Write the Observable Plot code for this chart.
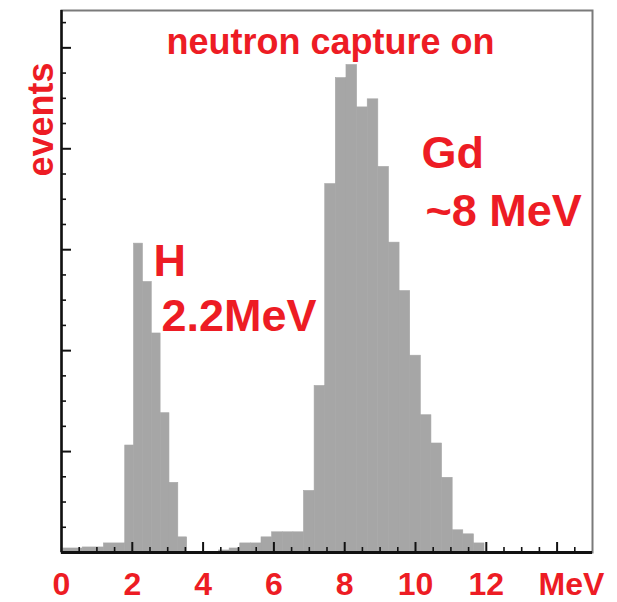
<!DOCTYPE html>
<html>
<head>
<meta charset="utf-8">
<script src="https://cdn.jsdelivr.net/npm/d3@7"></script>
<script src="https://cdn.jsdelivr.net/npm/@observablehq/plot@0.6"></script>
<style>
  html, body { margin: 0; padding: 0; background: #fff; }
  svg { display: block; }
</style>
</head>
<body>
<div id="chart"></div>
<script>
// ---- data (energy in MeV, counts in events) ----
const binStart = [0.0, 0.6, 1.2,
  1.8, 2.05, 2.3, 2.55, 2.8, 3.05, 3.3,
  4.45, 4.75, 5.05, 5.35, 5.65, 5.95, 6.25, 6.55,
  6.85, 7.15, 7.45, 7.75, 8.05, 8.35, 8.65, 8.95, 9.25, 9.55, 9.85, 10.15, 10.45, 10.75, 11.05, 11.35, 11.65];
const binEnd = [0.6, 1.2, 1.8,
  2.05, 2.3, 2.55, 2.8, 3.05, 3.3, 3.55,
  4.75, 5.05, 5.35, 5.65, 5.95, 6.25, 6.55, 6.85,
  7.15, 7.45, 7.75, 8.05, 8.35, 8.65, 8.95, 9.25, 9.55, 9.85, 10.15, 10.45, 10.75, 11.05, 11.35, 11.65, 11.95];
const counts = [4, 5, 9,
  106, 306, 268, 217, 138, 69, 15,
  2, 4, 9, 9, 15, 20, 20, 20,
  61, 165, 365, 470, 483, 441, 449, 382, 307, 259, 195, 136, 108, 74, 22, 18, 9];

const xTickLabels = [0, 2, 4, 6, 8, 10, 12];
const xUnit = "MeV";
const yLabel = "events";
const titleText = "neutron capture on";
const hLabel = ["H", "2.2MeV"];
const gdLabel = ["Gd", "~8 MeV"];

const xMajor = [2, 4, 6, 8, 10, 12, 14];
const xMinor = d3.range(0.5, 15, 0.5).filter(v => v % 2 !== 0);
const yMajor = [100, 200, 300, 400, 500];
const yMinor = d3.range(25, 537, 25).filter(v => v % 100 !== 0);

// ---- table ----
const bins = binStart.map((s, i) => ({x1: s, x2: binEnd[i], y: counts[i]}));

const W = 617, H = 602;
const mL = 61, mR = 25, mT = 10, mB = 50;
const fw = W - mL - mR, fh = H - mT - mB;
const red = "#ed1c24";
const font = "'Liberation Sans', Arial, sans-serif";

const chart = Plot.plot({
  width: W,
  height: H,
  marginLeft: mL,
  marginRight: mR,
  marginTop: mT,
  marginBottom: mB,
  style: {fontFamily: font, background: "#fff"},
  x: {domain: [0, 15]},
  y: {domain: [0, 537], axis: null},
  marks: [
    Plot.rectY(bins, {x1: "x1", x2: "x2", y: "y", fill: "#a6a6a6", stroke: "#a6a6a6",
      strokeWidth: 0.6, inset: 0}),
    Plot.frame({stroke: "#7a7a7a", strokeWidth: 2}),
    Plot.ruleX([0], {stroke: "#111", strokeWidth: 2.5}),
    Plot.ruleY([0], {stroke: "#111", strokeWidth: 3}),
    // inward ticks
    Plot.tickY(yMajor, {y: d => d, insetRight: fw - 10, stroke: "#111", strokeWidth: 2}),
    Plot.tickY(yMinor, {y: d => d, insetRight: fw - 5, stroke: "#111", strokeWidth: 1.6}),
    Plot.tickX(xMajor, {x: d => d, insetTop: fh - 10, stroke: "#111", strokeWidth: 2}),
    Plot.tickX(xMinor, {x: d => d, insetTop: fh - 5, stroke: "#111", strokeWidth: 1.6}),
    // x axis labels
    Plot.axisX(xTickLabels, {tickSize: 0, tickPadding: 20, fontSize: 32, fontWeight: "bold",
      fill: red, tickFormat: d => String(d), label: null}),
    Plot.text([xUnit], {frameAnchor: "bottom-right", dx: -21, dy: 42, textAnchor: "middle",
      lineAnchor: "bottom", fontSize: 32, fontWeight: "bold", fill: red}),
    // y label
    Plot.text([yLabel], {frameAnchor: "top-left", dx: -9, dy: 109, rotate: -90, textAnchor: "middle",
      lineAnchor: "bottom", fontSize: 36, fontWeight: "bold", fill: red}),
    // annotations
    Plot.text([titleText], {frameAnchor: "top-left", dx: 269, dy: 43, textAnchor: "middle",
      lineAnchor: "bottom", fontSize: 36, fontWeight: "bold", fill: red}),
    Plot.text([hLabel[0]], {frameAnchor: "top-left", dx: 92, dy: 265, textAnchor: "start",
      lineAnchor: "bottom", fontSize: 45, fontWeight: "bold", fill: red}),
    Plot.text([hLabel[1]], {frameAnchor: "top-left", dx: 100, dy: 320, textAnchor: "start",
      lineAnchor: "bottom", fontSize: 45, fontWeight: "bold", fill: red}),
    Plot.text([gdLabel[0]], {frameAnchor: "top-left", dx: 360, dy: 157, textAnchor: "start",
      lineAnchor: "bottom", fontSize: 45, fontWeight: "bold", fill: red}),
    Plot.text([gdLabel[1]], {frameAnchor: "top-left", dx: 364, dy: 215, textAnchor: "start",
      lineAnchor: "bottom", fontSize: 45, fontWeight: "bold", fill: red})
  ]
});
document.getElementById("chart").appendChild(chart);
</script>
</body>
</html>
